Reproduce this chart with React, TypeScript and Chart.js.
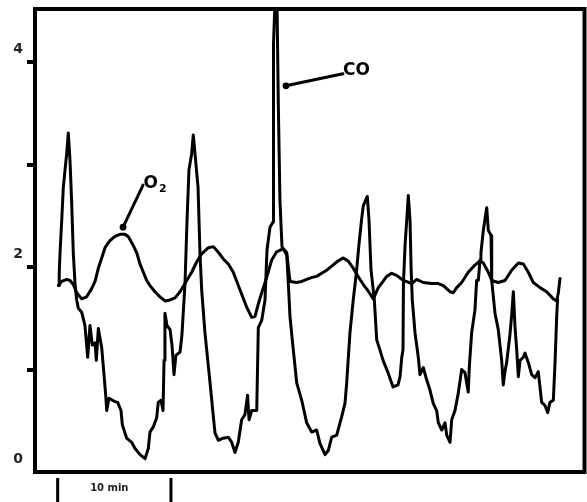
import React, { useEffect, useRef } from 'react';
import { Chart, registerables } from 'chart.js';

Chart.register(...registerables);

// ---- data (time in minutes, concentration in arbitrary units) ----
const coTime = [2.12,2.14,2.21,2.36,2.50,2.65,2.80,2.94,3.09,3.24,3.38,3.53,3.68,3.82,4.12,4.41,4.65,4.85,5.06,5.30,5.41,5.59,5.89,6.09,6.24,6.33,6.53,7.00,7.30,7.59,7.71,8.09,8.53,8.83,9.27,9.71,10.00,10.15,10.44,10.74,10.88,11.12,11.30,11.39,11.47,11.65,11.92,12.09,12.27,12.44,12.80,12.97,13.24,13.42,13.59,13.83,13.97,14.12,14.39,14.56,14.71,15.00,15.45,15.74,15.89,16.18,16.62,17.06,17.36,17.65,17.94,18.24,18.53,18.76,18.89,19.13,19.57,19.71,20.01,20.30,20.48,20.74,21.01,21.05,21.18,21.36,21.47,21.62,21.80,22.22,22.36,22.51,22.80,23.10,23.54,23.98,24.42,24.86,25.15,25.60,25.89,26.19,26.63,27.07,27.36,27.51,27.80,28.09,28.39,28.60,28.84,28.98,29.33,29.48,29.66,29.95,30.16,30.45,30.72,31.16,31.60,32.04,32.22,32.37,32.48,32.52,32.66,32.81,32.95,33.10,33.20,33.30,33.54,33.83,33.98,34.27,34.57,34.86,35.15,35.45,35.60,35.90,36.19,36.34,36.63,36.78,37.07,37.36,37.66,37.95,38.24,38.33,38.54,38.83,38.98,39.13,39.28,39.36,39.57,39.87,40.01,40.25,40.31,40.60,40.89,41.19,41.33,41.48,41.63,41.92,42.07,42.22,42.37,42.52,42.66,42.81,43.10,43.25,43.54,43.84,44.13,44.42,44.72,45.01,45.25,45.45,45.75,45.90,46.05,46.12];
const coValue = [1.82,1.95,2.14,2.46,2.78,2.95,3.11,3.31,3.04,2.62,2.14,1.84,1.68,1.60,1.56,1.43,1.12,1.43,1.24,1.26,1.09,1.40,1.21,0.95,0.75,0.60,0.72,0.69,0.68,0.60,0.46,0.33,0.29,0.23,0.17,0.13,0.23,0.39,0.44,0.53,0.68,0.70,0.60,1.09,1.55,1.43,1.39,1.24,0.95,1.14,1.17,1.34,1.84,2.46,2.95,3.11,3.29,3.11,2.78,2.14,1.78,1.36,0.87,0.54,0.38,0.31,0.33,0.34,0.29,0.19,0.29,0.51,0.56,0.75,0.51,0.60,0.60,1.41,1.48,1.68,2.17,2.39,2.44,4.17,4.59,4.59,3.63,2.65,2.20,2.12,1.84,1.51,1.19,0.87,0.70,0.48,0.39,0.41,0.28,0.17,0.21,0.34,0.36,0.54,0.67,0.87,1.36,1.68,1.97,2.23,2.48,2.60,2.69,2.46,1.97,1.68,1.29,1.19,1.09,0.97,0.83,0.85,0.93,1.12,1.19,1.84,2.21,2.46,2.70,2.46,1.97,1.68,1.36,1.12,0.95,1.02,0.90,0.80,0.67,0.60,0.48,0.41,0.48,0.36,0.29,0.51,0.60,0.77,1.00,0.97,0.78,1.02,1.36,1.58,1.87,1.87,2.07,2.14,2.36,2.58,2.36,2.31,1.87,1.55,1.39,1.09,0.85,0.98,1.07,1.34,1.53,1.76,1.41,1.19,0.93,1.09,1.12,1.16,1.07,0.95,0.92,0.98,0.68,0.65,0.58,0.68,0.70,1.07,1.53,1.68];

const o2Time = [2.06,2.36,2.80,3.09,3.38,3.68,4.12,4.56,5.00,5.30,5.59,5.89,6.18,6.62,7.06,7.50,7.94,8.23,8.68,8.98,9.27,9.86,10.15,10.59,11.03,11.47,11.92,12.36,12.80,13.24,13.83,14.27,14.71,15.30,15.74,16.15,16.62,17.06,17.50,18.09,18.68,19.13,19.42,19.71,20.01,20.45,20.89,21.33,21.92,22.22,22.37,22.51,23.10,23.54,23.98,24.45,24.86,25.30,25.75,26.30,26.74,27.21,27.63,28.09,28.51,28.98,29.39,29.86,30.30,30.72,31.04,31.48,31.92,32.51,33.25,33.69,34.27,35.01,35.60,36.04,36.63,36.92,37.22,37.66,38.24,38.83,39.28,39.57,40.01,40.31,40.89,41.48,42.07,42.66,43.10,43.54,43.98,44.57,45.16,45.75,46.05,46.19,46.34];
const o2Value = [1.82,1.86,1.88,1.87,1.83,1.75,1.69,1.71,1.79,1.86,1.99,2.09,2.19,2.26,2.30,2.32,2.32,2.30,2.21,2.14,2.03,1.87,1.82,1.76,1.71,1.67,1.68,1.70,1.76,1.84,1.95,2.05,2.13,2.19,2.20,2.15,2.08,2.03,1.95,1.78,1.61,1.51,1.52,1.64,1.75,1.90,2.07,2.15,2.18,2.14,1.99,1.86,1.85,1.86,1.88,1.90,1.91,1.94,1.97,2.02,2.06,2.09,2.06,1.99,1.91,1.83,1.77,1.69,1.80,1.86,1.91,1.94,1.92,1.87,1.84,1.88,1.85,1.84,1.84,1.82,1.76,1.75,1.80,1.85,1.95,2.02,2.06,2.04,1.95,1.87,1.85,1.87,1.97,2.04,2.03,1.95,1.85,1.80,1.76,1.69,1.67,1.75,1.89];

const yTickValues = [0, 1, 2, 3, 4];
const yTickLabels = ['0', '', '2', '', '4'];
const timeMax = 48.5;
const valueMax = 4.52;

const scaleBarStart = 2;
const scaleBarEnd = 12;
const scaleBarLabel = '10 min';

const o2Anchor = { t: 7.77, v: 2.39, label: 'O', sub: '2' };
const coAnchor = { t: 22.15, v: 3.77, label: 'CO' };

const FONT = '"DejaVu Sans", Verdana, sans-serif';

const decorPlugin = {
  id: 'decor',
  afterDatasetsDraw(chart: any) {
    const { ctx, chartArea, scales } = chart;
    const x = scales.x;
    const y = scales.y;
    ctx.save();
    // frame
    ctx.strokeStyle = '#000';
    ctx.lineWidth = 4;
    ctx.strokeRect(chartArea.left, chartArea.top, chartArea.right - chartArea.left, chartArea.bottom - chartArea.top);

    const leader = (t: number, v: number, dx: number, dy: number) => {
      const px = x.getPixelForValue(t);
      const py = y.getPixelForValue(v);
      ctx.fillStyle = '#000';
      ctx.beginPath();
      ctx.arc(px, py, 3.4, 0, Math.PI * 2);
      ctx.fill();
      ctx.beginPath();
      ctx.lineWidth = 3;
      ctx.lineCap = 'round';
      ctx.moveTo(px, py);
      ctx.lineTo(px + dx, py + dy);
      ctx.stroke();
      return [px + dx, py + dy];
    };

    ctx.fillStyle = '#222';
    ctx.textBaseline = 'alphabetic';
    ctx.textAlign = 'left';

    // O2 label
    const [ox, oy] = leader(o2Anchor.t, o2Anchor.v, 20, -42);
    ctx.font = `bold 17px ${FONT}`;
    ctx.fillText(o2Anchor.label, ox + 0.5, oy + 3);
    const ow = ctx.measureText(o2Anchor.label).width;
    ctx.font = `bold 11px ${FONT}`;
    ctx.fillText(o2Anchor.sub, ox + 1.5 + ow, oy + 7);

    // CO label
    const [cx, cy] = leader(coAnchor.t, coAnchor.v, 57, -12);
    ctx.font = `bold 17px ${FONT}`;
    ctx.fillText(coAnchor.label, cx, cy + 1);

    // scale bar
    const x1 = x.getPixelForValue(scaleBarStart);
    const x2 = x.getPixelForValue(scaleBarEnd);
    ctx.strokeStyle = '#000';
    ctx.lineWidth = 3;
    ctx.lineCap = 'butt';
    ctx.beginPath();
    ctx.moveTo(x1, chartArea.bottom + 6);
    ctx.lineTo(x1, chart.height);
    ctx.moveTo(x2, chartArea.bottom + 6);
    ctx.lineTo(x2, chart.height);
    ctx.stroke();
    ctx.font = `bold 10px ${FONT}`;
    ctx.textAlign = 'center';
    ctx.fillStyle = '#222';
    ctx.fillText(scaleBarLabel, (x1 + x2) / 2 - 5, chartArea.bottom + 19);
    ctx.restore();
  },
};

export default function App() {
  const ref = useRef<HTMLCanvasElement | null>(null);
  useEffect(() => {
    if (!ref.current) return;
    const chart = new Chart(ref.current, {
      type: 'line',
      data: {
        datasets: [
          {
            label: 'CO',
            data: coTime.map((t, i) => ({ x: t, y: coValue[i] })),
            borderColor: '#000',
            borderWidth: 3,
            pointRadius: 0,
            tension: 0,
            fill: false,
            borderJoinStyle: 'round',
            borderCapStyle: 'round',
          },
          {
            label: 'O₂',
            data: o2Time.map((t, i) => ({ x: t, y: o2Value[i] })),
            borderColor: '#000',
            borderWidth: 3,
            pointRadius: 0,
            tension: 0,
            fill: false,
            borderJoinStyle: 'round',
            borderCapStyle: 'round',
          },
        ],
      },
      options: {
        animation: false,
        responsive: true,
        maintainAspectRatio: false,
        layout: { padding: { top: 9, right: 2.5, bottom: 30, left: 0 } },
        plugins: { legend: { display: false }, tooltip: { enabled: false } },
        scales: {
          x: {
            type: 'linear',
            min: 0,
            max: timeMax,
            display: false,
          },
          y: {
            type: 'linear',
            min: 0,
            max: valueMax,
            afterFit: (s: any) => { s.width = 35; s.paddingTop = 0; s.paddingBottom = 0; },
            afterBuildTicks: (s: any) => { s.ticks = yTickValues.map((v) => ({ value: v })); },
            border: { display: false },
            grid: {
              drawOnChartArea: false,
              drawTicks: true,
              tickLength: 8,
              lineWidth: 4,
              color: (c: any) => (c.tick && c.tick.value === 0 ? 'rgba(0,0,0,0)' : '#000'),
            },
            ticks: {
              padding: 4,
              labelOffset: -13,
              color: '#222',
              font: { family: FONT, size: 14, weight: 'bold' },
              callback: (v: any) => {
                const i = yTickValues.indexOf(Number(v));
                return i >= 0 ? yTickLabels[i] : '';
              },
            },
          },
        },
      },
      plugins: [decorPlugin],
    });
    return () => chart.destroy();
  }, []);
  return (
    <div style={{ position: 'absolute', left: 0, top: 0, width: 587, height: 502 }}>
      <canvas ref={ref} />
    </div>
  );
}
